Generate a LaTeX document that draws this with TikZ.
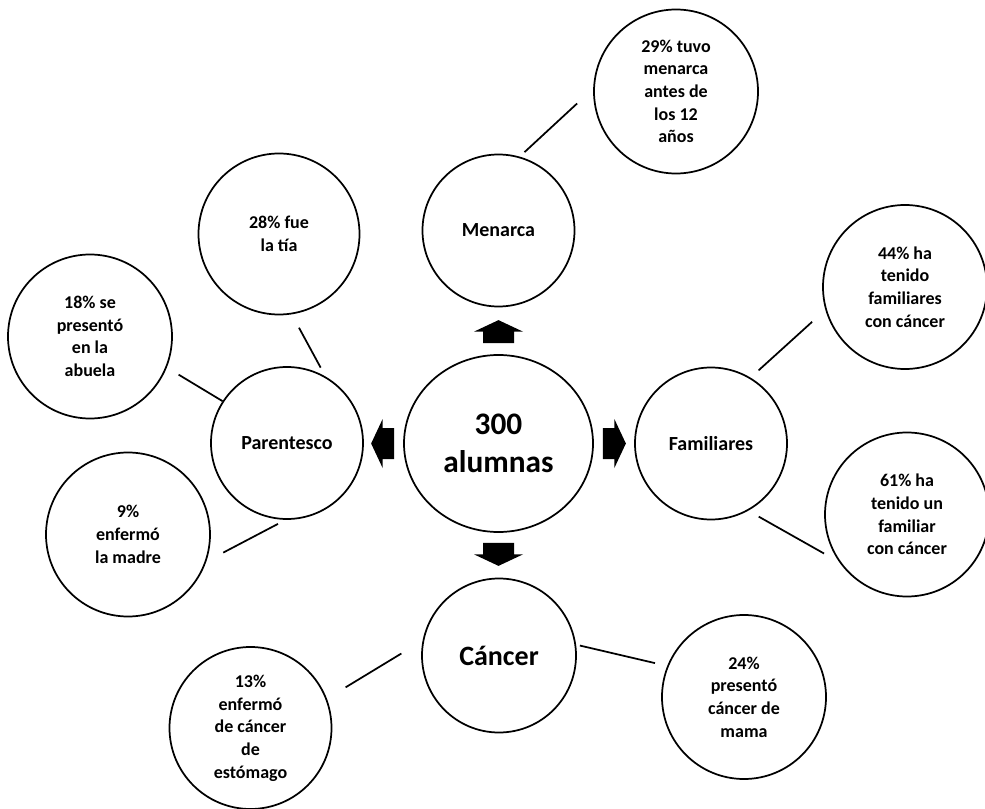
\documentclass[tikz,border=0pt]{standalone}
\usepackage{fontspec}
\setmainfont{Carlito}
\usetikzlibrary{shapes.geometric,calc}
\tikzset{
  bubble/.style={
    draw, circle, line width=1.3pt, inner sep=0pt, minimum size=123pt,
    align=center, font=\bfseries\fontsize{13.5}{17}\selectfont
  },
  hub/.style={
    draw, circle, line width=1.3pt, inner sep=0pt, minimum size=114pt,
    font=\bfseries\fontsize{15}{18}\selectfont
  },
  link/.style={line width=1.3pt},
  blockarr/.pic={
    \fill (0,-15.5) -- (11.5,-15.5) -- (11.5,-24.5) -- (23,0) --
      (11.5,24.5) -- (11.5,15.5) -- (0,15.5) -- cycle;
  }
}

\begin{document}
\begin{tikzpicture}[x=0.75pt,y=-0.75pt]
  \useasboundingbox (0,0) rectangle (985,809);
  % centre
  \node[draw, ellipse, line width=1.3pt, inner sep=0pt, minimum width=141.75pt,
    minimum height=132.75pt, align=center,
    font=\bfseries\fontsize{23.5}{28}\selectfont] (ctr) at (498.5,443.5)
    {300\\alumnas};
  \pic[rotate=90] at ($(ctr.north)+(0,-11)$) {blockarr};
  \pic[rotate=-90] at ($(ctr.south)+(0,10)$) {blockarr};
  \pic[rotate=180] at ($(ctr.west)+(-9,0)$) {blockarr};
  \pic at ($(ctr.east)+(9,0)$) {blockarr};
  % the four branches
  \node[hub] (men) at (498.5,230.5) {Menarca}; \node[hub] (fam) at
    (711,443.5) {Familiares}; \node[hub] (par) at (287,443)
    {Parentesco}; \node[hub, minimum size=115.5pt,
    font=\bfseries\fontsize{21}{25}\selectfont] (can) at (499,655.5)
    {Cáncer};
  % leaves
  \node[bubble] (m29) at (676,91.5) {29\% tuvo\\menarca\\antes de\\los 12\\años};
  \node[bubble] (f44) at (905,287) {44\% ha\\tenido\\familiares\\con cáncer};
  \node[bubble] (f61) at (907,514.5) {61\% ha\\tenido un\\familiar\\con cáncer};
  \node[bubble, minimum size=120.75pt] (p28) at (279,234) {28\% fue\\la tía};
  \node[bubble] (p18) at (90,336.5) {18\% se\\presentó\\en la\\abuela};
  \node[bubble] (p09) at (128,534.5) {9\%\\enfermó\\la madre};
  \node[bubble, minimum size=121.5pt] (c13) at (250.5,728)
    {13\%\\enfermó\\de cáncer\\de\\estómago};
  \node[bubble] (c24) at (744,697) {24\%\\presentó\\cáncer de\\mama};
  % links
  \draw[link, shorten <=4.9pt, shorten >=16.4pt] (men.74) -- (m29.178);
  \draw[link, shorten <=8.1pt, shorten >=13.4pt] (fam.59) -- (f44.196);
  \draw[link, shorten <=9pt, shorten >=13pt] (fam.299) -- (f61.215);
  \draw[link, shorten <=7.5pt, shorten >=11.4pt] (par.60) -- (p28.279);
  \draw[link, shorten >=10.3pt] (par.147) -- (p18.338);
  \draw[link, shorten <=6.5pt, shorten >=14.3pt] (par.269) -- (p09.341);
  \draw[link, shorten <=18.6pt, shorten >=16.4pt] (can.169) -- (c13.21);
  \draw[link, shorten <=2.9pt, shorten >=9.4pt] (can.8) -- (c24.158);
\end{tikzpicture}
\end{document}
